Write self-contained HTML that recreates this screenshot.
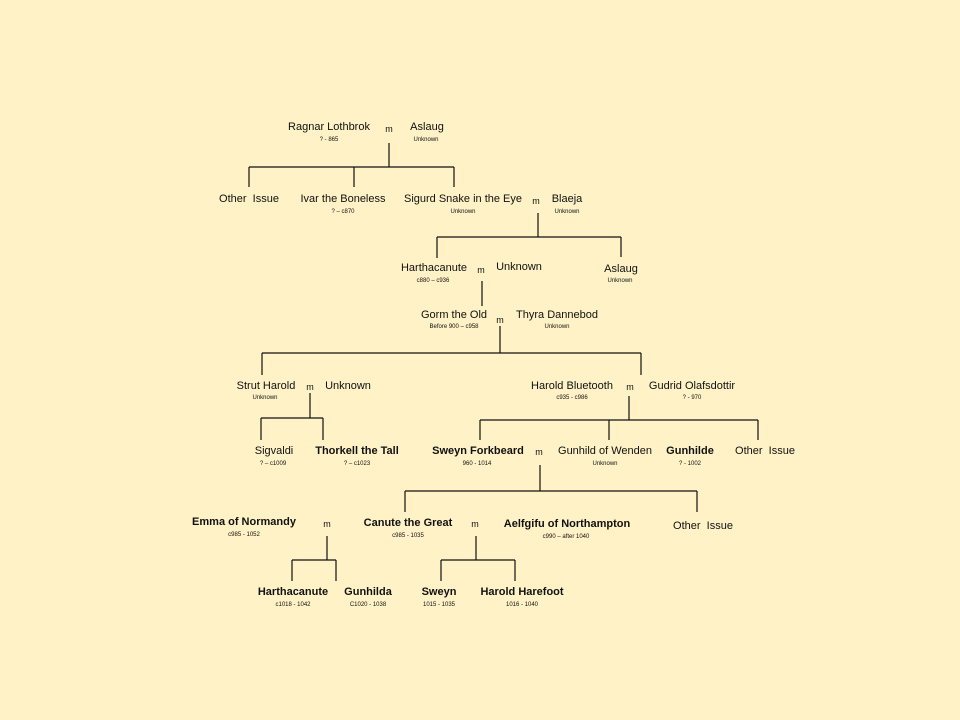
<!DOCTYPE html>
<html><head><meta charset="utf-8"><style>
body{margin:0;width:960px;height:720px;background:#fff2c6;position:relative;overflow:hidden;font-family:"Liberation Sans",sans-serif;color:#111}
.t{position:absolute;font-size:11px;white-space:nowrap;transform:translateX(-50%);line-height:13px}
.b{font-weight:bold}
.s{position:absolute;font-size:6px;white-space:nowrap;transform:translateX(-50%);line-height:7px}
.m{position:absolute;font-size:9px;transform:translateX(-50%);line-height:10px}
svg{position:absolute;left:0;top:0}
</style></head><body>
<svg width="960" height="720" stroke="#111" stroke-width="1.2" fill="none">
<path d="M389 143V167M249 167H454M249 167V187M354 167V187M454 167V187"/>
<path d="M538 213V237M437 237H621M437 237V258M621 237V257"/>
<path d="M482 281V306"/>
<path d="M500 326V353M262 353H641M262 353V375M641 353V375"/>
<path d="M310 393V418M261 418H323M261 418V440M323 418V440"/>
<path d="M629 396V420M480 420H758M480 420V440M609 420V440M758 420V440"/>
<path d="M540 465V491M405 491H697M405 491V512M697 491V512"/>
<path d="M327 536V560M292 560H336M292 560V581M336 560V581"/>
<path d="M476 536V560M441 560H515M441 560V581M515 560V581"/>
</svg>

<div class="t" style="left:329px;top:121px">Ragnar Lothbrok</div><div class="s" style="left:329px;top:137px">? - 865</div>
<div class="m" style="left:389px;top:124px">m</div>
<div class="t" style="left:427px;top:121px">Aslaug</div><div class="s" style="left:426px;top:137px">Unknown</div>

<div class="t" style="left:249px;top:193px">Other&nbsp; Issue</div>
<div class="t" style="left:343px;top:193px">Ivar the Boneless</div><div class="s" style="left:343px;top:209px">? – c870</div>
<div class="t" style="left:463px;top:193px">Sigurd Snake in the Eye</div><div class="s" style="left:463px;top:209px">Unknown</div>
<div class="m" style="left:536px;top:196px">m</div>
<div class="t" style="left:567px;top:193px">Blaeja</div><div class="s" style="left:567px;top:209px">Unknown</div>

<div class="t" style="left:434px;top:262px">Harthacanute</div><div class="s" style="left:433px;top:278px">c880 – c936</div>
<div class="m" style="left:481px;top:265px">m</div>
<div class="t" style="left:519px;top:261px">Unknown</div>
<div class="t" style="left:621px;top:263px">Aslaug</div><div class="s" style="left:620px;top:278px">Unknown</div>

<div class="t" style="left:454px;top:309px">Gorm the Old</div><div class="s" style="left:454px;top:324px">Before 900 – c958</div>
<div class="m" style="left:500px;top:315px">m</div>
<div class="t" style="left:557px;top:309px">Thyra Dannebod</div><div class="s" style="left:557px;top:324px">Unknown</div>

<div class="t" style="left:266px;top:380px">Strut Harold</div><div class="s" style="left:265px;top:395px">Unknown</div>
<div class="m" style="left:310px;top:382px">m</div>
<div class="t" style="left:348px;top:380px">Unknown</div>
<div class="t" style="left:572px;top:380px">Harold Bluetooth</div><div class="s" style="left:572px;top:395px">c935 - c986</div>
<div class="m" style="left:630px;top:382px">m</div>
<div class="t" style="left:692px;top:380px">Gudrid Olafsdottir</div><div class="s" style="left:692px;top:395px">? - 970</div>

<div class="t" style="left:274px;top:445px">Sigvaldi</div><div class="s" style="left:273px;top:461px">? – c1009</div>
<div class="t b" style="left:357px;top:445px">Thorkell the Tall</div><div class="s" style="left:357px;top:461px">? – c1023</div>
<div class="t b" style="left:478px;top:445px">Sweyn Forkbeard</div><div class="s" style="left:477px;top:461px">960 - 1014</div>
<div class="m" style="left:539px;top:447px">m</div>
<div class="t" style="left:605px;top:445px">Gunhild of Wenden</div><div class="s" style="left:605px;top:461px">Unknown</div>
<div class="t b" style="left:690px;top:445px">Gunhilde</div><div class="s" style="left:690px;top:461px">? - 1002</div>
<div class="t" style="left:765px;top:445px">Other&nbsp; Issue</div>

<div class="t b" style="left:244px;top:516px">Emma of Normandy</div><div class="s" style="left:244px;top:532px">c985 - 1052</div>
<div class="m" style="left:327px;top:519px">m</div>
<div class="t b" style="left:408px;top:517px">Canute the Great</div><div class="s" style="left:408px;top:533px">c985 - 1035</div>
<div class="m" style="left:475px;top:519px">m</div>
<div class="t b" style="left:567px;top:518px">Aelfgifu of Northampton</div><div class="s" style="left:566px;top:534px">c990 – after 1040</div>
<div class="t" style="left:703px;top:520px">Other&nbsp; Issue</div>

<div class="t b" style="left:293px;top:586px">Harthacanute</div><div class="s" style="left:293px;top:602px">c1018 - 1042</div>
<div class="t b" style="left:368px;top:586px">Gunhilda</div><div class="s" style="left:368px;top:602px">C1020 - 1038</div>
<div class="t b" style="left:439px;top:586px">Sweyn</div><div class="s" style="left:439px;top:602px">1015 - 1035</div>
<div class="t b" style="left:522px;top:586px">Harold Harefoot</div><div class="s" style="left:522px;top:602px">1016 - 1040</div>
</body></html>
